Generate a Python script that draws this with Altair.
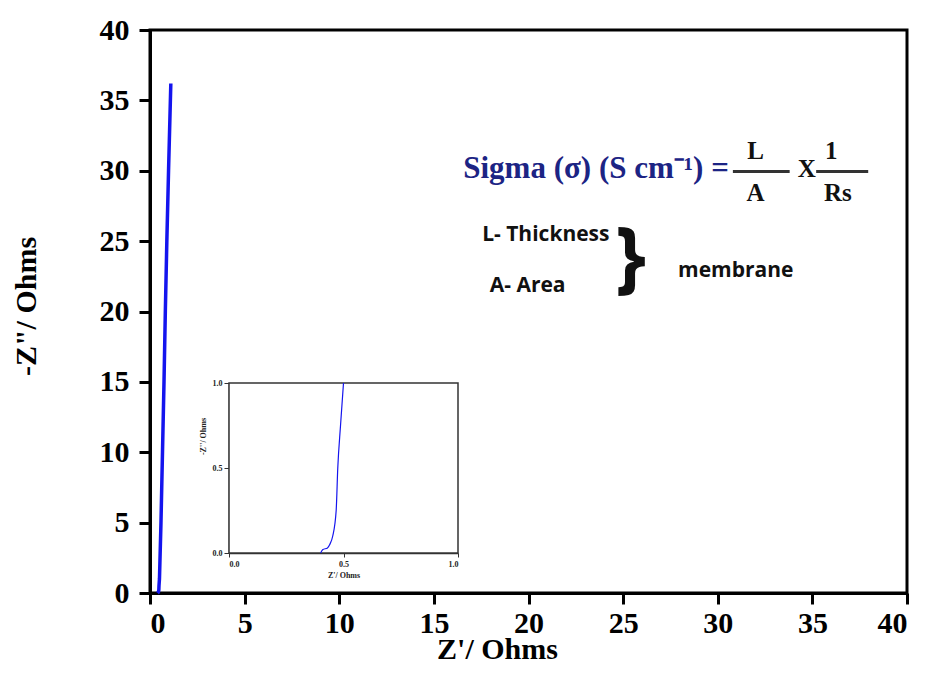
import altair as alt
import pandas as pd

# Impedance (Nyquist) data, Z' and -Z'' in Ohms
z_real = [0.40, 0.41, 0.43, 0.44, 0.453, 0.468, 0.475, 0.487, 0.50, 0.58, 0.66, 0.74, 0.81, 0.89, 0.98, 1.10]
z_imag = [0.00, 0.02, 0.03, 0.05, 0.10, 0.25, 0.50, 0.75, 1.00, 5.0, 10.0, 15.0, 20.0, 25.0, 30.0, 36.2]

main_ticks = [0, 5, 10, 15, 20, 25, 30, 35, 40]
inset_ticks = [0.0, 0.5, 1.0]

df = pd.DataFrame({"x": z_real, "y": z_imag})

SERIF = "Liberation Serif"
SANS = "Open Sans"
NAVY = "#1c2484"
BLUE = "#1414ee"

# ---------- main chart ----------
xs = alt.Scale(domain=[0, 40], nice=False, zero=False)
ys = alt.Scale(domain=[0, 40], nice=False, zero=False)

main_x_axis = alt.Axis(values=main_ticks, title="Z'/ Ohms", grid=False,
                       labelFont=SERIF, labelFontWeight="bold", labelFontSize=30,
                       labelColor="black", labelPadding=4,
                       titleFont=SERIF, titleFontWeight="bold", titleFontSize=30,
                       titleColor="black", titleX=347, titleY=65,
                       titleAlign="center", titleBaseline="alphabetic",
                       domainColor="black", domainWidth=3,
                       tickColor="black", tickWidth=3, tickSize=11)
main_y_axis = alt.Axis(values=main_ticks, title='-Z"/ Ohms', grid=False,
                       labelFont=SERIF, labelFontWeight="bold", labelFontSize=30,
                       labelColor="black", labelPadding=10,
                       titleFont=SERIF, titleFontWeight="bold", titleFontSize=30,
                       titleColor="black", titleX=-115, titleY=276, titleAngle=270,
                       titleAlign="center", titleBaseline="alphabetic",
                       domainColor="black", domainWidth=3,
                       tickColor="black", tickWidth=3, tickSize=11)

main_line = alt.Chart(df).mark_line(color=BLUE, strokeWidth=3.5).encode(
    x=alt.X("x:Q", scale=xs, axis=main_x_axis),
    y=alt.Y("y:Q", scale=ys, axis=main_y_axis),
    order="y:Q",
)

# annotation texts (data coordinates)
formula_df = pd.DataFrame({"x": [16.55], "y": [30.1], "t": ["Sigma (σ) (S cm⁻¹) ="]})
formula = alt.Chart(formula_df).mark_text(
    font=SERIF, fontWeight="bold", fontSize=31, color=NAVY, align="left", baseline="middle"
).encode(x=alt.X("x:Q", scale=xs), y=alt.Y("y:Q", scale=ys), text="t:N")

frac_df = pd.DataFrame({
    "x": [32.0, 32.0, 34.7, 36.0, 36.35],
    "y": [31.4, 28.45, 30.1, 31.4, 28.45],
    "t": ["L", "A", "X", "1", "Rs"],
})
frac = alt.Chart(frac_df).mark_text(
    font=SERIF, fontWeight="bold", fontSize=25, color="#111", align="center", baseline="middle"
).encode(x=alt.X("x:Q", scale=xs), y=alt.Y("y:Q", scale=ys), text="t:N")

bar_df = pd.DataFrame({"x": [30.8, 35.2], "x2": [33.8, 37.95], "y": [29.95, 29.95]})
bars = alt.Chart(bar_df).mark_rule(color="#333", strokeWidth=3).encode(
    x=alt.X("x:Q", scale=xs), x2="x2:Q", y=alt.Y("y:Q", scale=ys)
)

labels_df = pd.DataFrame({
    "x": [17.55, 17.95, 27.9],
    "y": [25.4, 21.8, 22.9],
    "t": ["L- Thickness", "A- Area", "membrane"],
})
labels = alt.Chart(labels_df).mark_text(
    font=SANS, fontWeight="bold", fontSize=21, color="#111", align="left", baseline="middle"
).encode(x=alt.X("x:Q", scale=xs), y=alt.Y("y:Q", scale=ys), text="t:N")

brace_df = pd.DataFrame({"x": [25.4], "y": [23.65], "t": ["}"]})
brace = alt.Chart(brace_df).mark_text(
    font=SANS, fontWeight="bold", fontSize=78, color="#111", align="center", baseline="middle"
).encode(x=alt.X("x:Q", scale=xs), y=alt.Y("y:Q", scale=ys), text="t:N")

main_layer = alt.layer(main_line, formula, frac, bars, labels, brace)

# ---------- inset ----------
ixs = alt.Scale(domain=[0, 1], range=[79, 308], nice=False, zero=False)
iys = alt.Scale(domain=[0, 1], range=[523, 353], nice=False, zero=False)

inset_x_axis = alt.Axis(values=inset_ticks, format=".1f", title="Z'/ Ohms", orient="bottom",
                        offset=-40, grid=False,
                        labelFont=SERIF, labelFontWeight="bold", labelFontSize=8,
                        labelColor="#222", labelPadding=3,
                        titleFont=SERIF, titleFontWeight="bold", titleFontSize=8,
                        titleColor="#222", titlePadding=3,
                        domainColor="#333", domainWidth=1.5,
                        tickColor="#333", tickWidth=1, tickSize=4)
inset_y_axis = alt.Axis(values=inset_ticks, format=".1f", title="-Z''/ Ohms", orient="left",
                        offset=-79, grid=False,
                        labelFont=SERIF, labelFontWeight="bold", labelFontSize=8,
                        labelColor="#222", labelPadding=2,
                        titleFont=SERIF, titleFontWeight="bold", titleFontSize=8,
                        titleColor="#222", titleX=-26, titleY=406, titleAngle=270,
                        titleAlign="center", titleBaseline="middle",
                        domainColor="#333", domainWidth=1.5,
                        tickColor="#333", tickWidth=1, tickSize=5)

inset_df = df[df["y"] <= 1.0]
inset_line = alt.Chart(inset_df).mark_line(color=BLUE, strokeWidth=1.2, clip=True,
                                           interpolate="monotone").encode(
    x=alt.X("x:Q", scale=ixs, axis=inset_x_axis),
    y=alt.Y("y:Q", scale=iys, axis=inset_y_axis),
    order="y:Q",
)
frame_df = pd.DataFrame({"x": [0.0], "x2": [1.0], "y": [0.0], "y2": [1.0]})
inset_frame = alt.Chart(frame_df).mark_rect(fill="white", stroke="#333", strokeWidth=1.5).encode(
    x=alt.X("x:Q", scale=ixs), x2="x2:Q", y=alt.Y("y:Q", scale=iys), y2="y2:Q"
)
inset_layer = alt.layer(inset_frame, inset_line)

chart = alt.layer(main_layer, inset_layer).resolve_scale(
    x="independent", y="independent"
).resolve_axis(x="independent", y="independent").properties(
    width=757, height=563,
    autosize=alt.AutoSizeParams(type="none"),
    padding={"left": 142, "top": 22, "right": 14, "bottom": 72},
    background="white",
).configure_view(stroke="black", strokeWidth=3)

chart.save("out.html", embed_options={"renderer": "svg", "actions": False})
